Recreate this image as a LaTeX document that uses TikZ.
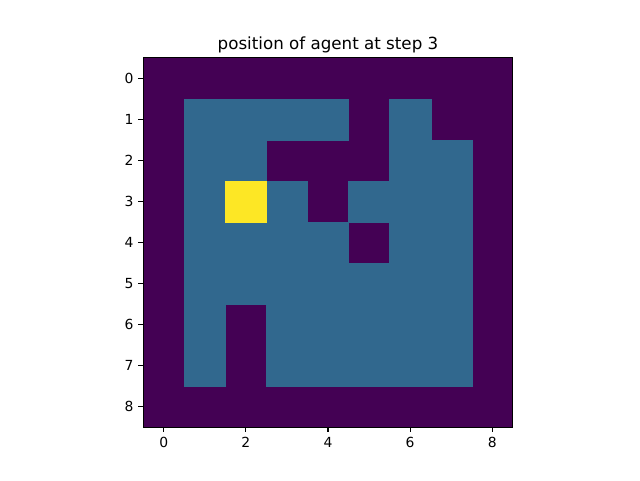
\documentclass[tikz,border=0pt]{standalone}
\usepackage{fontspec}
\setmainfont{DejaVu Sans}
\definecolor{vdark}{HTML}{440154}
\definecolor{vteal}{HTML}{31688E}
\definecolor{vyellow}{HTML}{FDE725}
\begin{document}
\begin{tikzpicture}[x=1pt,y=-1pt,
  cellfill/.style={fill=#1,draw=#1,line width=0.3pt},
  ticklab/.style={font=\fontsize{13.9}{16}\selectfont,inner sep=0pt},
  tickmark/.style={line width=1.1pt,black},
  spine/.style={line width=1.1pt,black}]
\useasboundingbox (0,0) rectangle (640,480);
\def\ox{143.2}\def\oy{57.6}\def\cs{41.067}
% background field
\fill[vdark] (\ox,\oy) rectangle ++(9*\cs,9*\cs);
% open cells
\foreach \r/\cols in {1/{1,2,3,4,6},2/{1,2,6,7},3/{1,3,5,6,7},4/{1,2,3,4,6,7},5/{1,2,3,4,5,6,7},6/{1,3,4,5,6,7},7/{1,3,4,5,6,7}}{
  \foreach \c in \cols {
    \path[cellfill=vteal] (\ox+\c*\cs,\oy+\r*\cs) rectangle ++(\cs,\cs);
  }
}
% agent
\path[cellfill=vyellow] (\ox+2*\cs,\oy+3*\cs) rectangle ++(\cs,\cs);
% frame
\draw[spine] (\ox,\oy) rectangle ++(9*\cs,9*\cs);
% y ticks
\foreach \i in {0,...,8}{
  \draw[tickmark] (\ox,\oy+\i*\cs+0.5*\cs) -- ++(-4.86,0);
  \node[ticklab,anchor=base east] (yl\i) at (\ox-9.5,\oy+\i*\cs+0.5*\cs+5.2) {\i};
}
% x ticks
\foreach \i in {0,2,4,6,8}{
  \draw[tickmark] (\ox+\i*\cs+0.5*\cs,\oy+9*\cs) -- ++(0,4.86);
  \node[ticklab,anchor=base] (xl\i) at (\ox+\i*\cs+0.5*\cs,447.5) {\i};
}
% title
\node[font=\fontsize{16.7}{20}\selectfont,inner sep=0pt,anchor=base] (title) at (328,49.3) {position of agent at step 3};
\end{tikzpicture}
\end{document}
